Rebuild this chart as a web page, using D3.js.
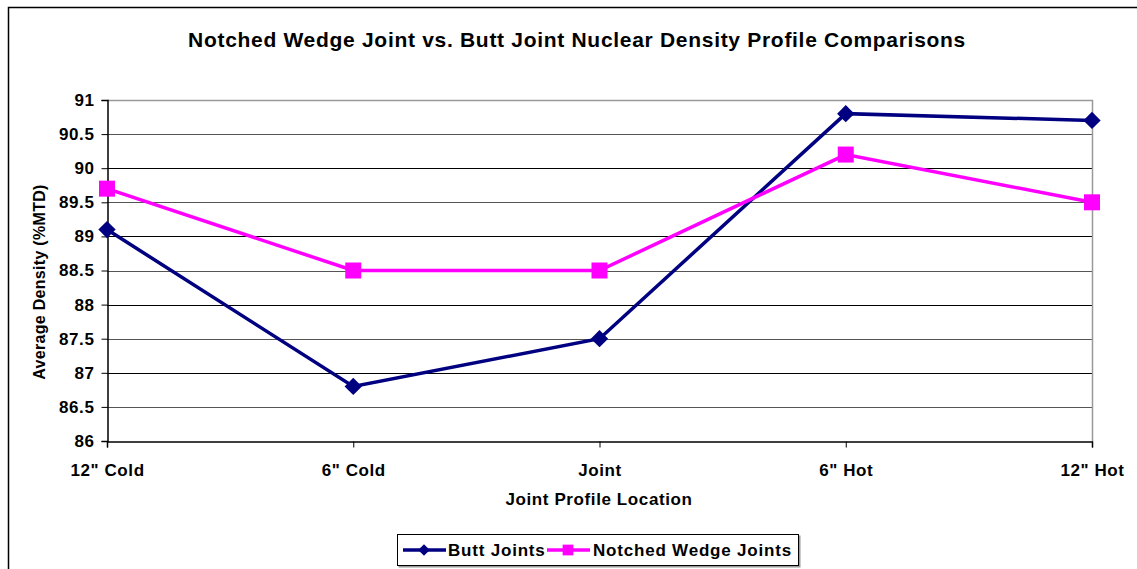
<!DOCTYPE html>
<html>
<head>
<meta charset="utf-8">
<script src="https://cdn.jsdelivr.net/npm/d3@7"></script>
<style>
  html, body { margin: 0; padding: 0; background: #fff; }
  svg { display: block; font-family: "Liberation Sans", Arial, sans-serif; }
</style>
</head>
<body>
<svg id="chart" width="1137" height="569"></svg>
<script>
var categories = ['12" Cold', '6" Cold', "Joint", '6" Hot', '12" Hot'];
var buttJoints = [89.1, 86.8, 87.5, 90.8, 90.7];
var notchedWedgeJoints = [89.7, 88.5, 88.5, 90.2, 89.5];
var yTicks = [86, 86.5, 87, 87.5, 88, 88.5, 89, 89.5, 90, 90.5, 91];

var svg = d3.select("#chart");
var plot = { left: 107, top: 100, right: 1092, bottom: 441 };

// outer chart frame (only left/top edges visible)
svg.append("rect")
  .attr("x", 8.5).attr("y", 7.5)
  .attr("width", 1200).attr("height", 700)
  .attr("fill", "#fff").attr("stroke", "#000").attr("stroke-width", 1.5);

var x = d3.scalePoint().domain(categories).range([plot.left, plot.right]);
var y = d3.scaleLinear().domain([86, 91]).range([plot.bottom, plot.top]);

// gridlines
svg.append("g")
  .selectAll("line")
  .data(yTicks.filter(d => d > 86))
  .enter()
  .append("line")
  .attr("x1", plot.left).attr("x2", plot.right)
  .attr("y1", d => Math.round(y(d)) + 0.5)
  .attr("y2", d => Math.round(y(d)) + 0.5)
  .attr("stroke", d => (d % 1 === 0 ? "#000" : "#555"))
  .attr("stroke-width", 1);

// plot border right/top
svg.append("path")
  .attr("d", "M" + plot.left + "," + (plot.top + 0.5) + "H" + (plot.right + 0.5) + "V" + plot.bottom)
  .attr("fill", "none").attr("stroke", "#999").attr("stroke-width", 1.5);

function styleText(sel) {
  sel.attr("font-size", 17).attr("font-weight", "bold").attr("fill", "#000")
    .attr("letter-spacing", 0.6)
    .attr("font-family", "'Liberation Sans', Arial, sans-serif");
}

// y axis
var yAxis = svg.append("g")
  .attr("transform", "translate(" + (plot.left + 0.5) + ",0)")
  .call(d3.axisLeft(y).tickValues(yTicks).tickSize(6).tickPadding(7).tickFormat(d3.format("")));
yAxis.select(".domain").attr("stroke", "#000").attr("stroke-width", 1.5);
yAxis.selectAll(".tick line").attr("stroke", "#000");
yAxis.selectAll("text").call(styleText);

// x axis
var xAxis = svg.append("g")
  .attr("transform", "translate(0," + (plot.bottom + 0.5) + ")")
  .call(d3.axisBottom(x).tickSize(6).tickPadding(16));
xAxis.select(".domain").attr("stroke", "#000").attr("stroke-width", 1.5);
xAxis.selectAll(".tick line").attr("stroke", "#000");
xAxis.selectAll("text").call(styleText);

// titles
svg.append("text")
  .attr("x", 577).attr("y", 47)
  .attr("text-anchor", "middle")
  .attr("font-size", 21).attr("font-weight", "bold")
  .attr("letter-spacing", 0.7)
  .text("Notched Wedge Joint vs. Butt Joint Nuclear Density Profile Comparisons");

svg.append("text")
  .attr("x", 599).attr("y", 505)
  .attr("text-anchor", "middle")
  .call(styleText)
  .text("Joint Profile Location");

svg.append("text")
  .attr("transform", "translate(45,282) rotate(-90)")
  .attr("text-anchor", "middle")
  .attr("font-size", 16).attr("font-weight", "bold")
  .attr("letter-spacing", 0.3)
  .text("Average Density (%MTD)");

var line = d3.line()
  .x((d, i) => x(categories[i]))
  .y(d => y(d));

var series = [
  { name: "Butt Joints", values: buttJoints, color: "#000080", rotate: 45, size: 150 },
  { name: "Notched Wedge Joints", values: notchedWedgeJoints, color: "#ff00ff", rotate: 0, size: 256 }
];

series.forEach(function(s) {
  svg.append("path")
    .datum(s.values)
    .attr("fill", "none")
    .attr("stroke", s.color)
    .attr("stroke-width", 3.5)
    .attr("d", line);

  svg.append("g")
    .selectAll("path")
    .data(s.values)
    .enter()
    .append("path")
    .attr("transform", (d, i) => "translate(" + x(categories[i]) + "," + y(d) + ") rotate(" + s.rotate + ")")
    .attr("d", d3.symbol().type(d3.symbolSquare).size(s.size))
    .attr("fill", s.color);
});

// legend
var legend = svg.append("g").attr("transform", "translate(397,534)");
legend.append("rect")
  .attr("x", 1.5).attr("y", 1.5).attr("width", 402).attr("height", 32)
  .attr("fill", "#999");
legend.append("rect")
  .attr("x", 0.5).attr("y", 0.5).attr("width", 401).attr("height", 31)
  .attr("fill", "#fff").attr("stroke", "#000").attr("stroke-width", 1);

var legendItems = [
  { s: series[0], x: 6, textX: 51 },
  { s: series[1], x: 150, textX: 196 }
];
legendItems.forEach(function(it) {
  legend.append("line")
    .attr("x1", it.x).attr("x2", it.x + 43)
    .attr("y1", 16).attr("y2", 16)
    .attr("stroke", it.s.color).attr("stroke-width", 3.5);
  legend.append("path")
    .attr("transform", "translate(" + (it.x + 21) + ",16) rotate(" + it.s.rotate + ")")
    .attr("d", d3.symbol().type(d3.symbolSquare).size(it.s.size * 0.45))
    .attr("fill", it.s.color);
  legend.append("text")
    .attr("x", it.textX).attr("y", 22)
    .call(styleText)
    .attr("letter-spacing", 0.8)
    .text(it.s.name);
});
</script>
</body>
</html>
